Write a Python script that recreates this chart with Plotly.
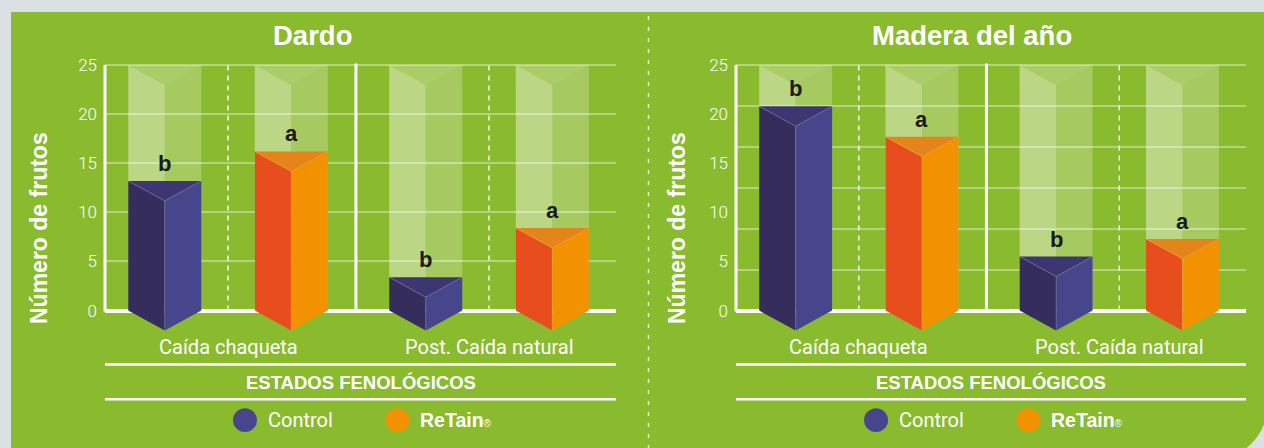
import plotly.graph_objects as go

W, H = 1264, 448

# ---------------- data ----------------
panels = ["Dardo", "Madera del año"]
stages = ["Caída chaqueta", "Post. Caída natural"]
treatments = ["Control", "ReTain"]
dardo_control = [13.2, 3.4]
dardo_retain = [16.2, 8.4]
madera_control = [20.8, 5.5]
madera_retain = [17.7, 7.3]
dardo_control_letters = ["b", "b"]
dardo_retain_letters = ["a", "a"]
madera_control_letters = ["b", "b"]
madera_retain_letters = ["a", "a"]
y_ticks = [0, 5, 10, 15, 20, 25]
y_max = 25
madera_grid_steps = 6
x_axis_title = "ESTADOS FENOLÓGICOS"
y_axis_title = "Número de frutos"

# ---------------- style ----------------
GREEN = "#8aba2e"
GRAY = "#dbe0e4"
CTRL = dict(left="#352d5b", right="#47468c", top="#3c3673", edge="rgba(140,140,190,0.55)")
RET = dict(left="#e84e1d", right="#f29200", top="#e5841a", edge="rgba(235,175,60,0.6)")
GHOST = dict(left="rgba(255,255,255,0.42)", right="rgba(255,255,255,0.24)", top="rgba(255,255,255,0.28)")
GRID = "rgba(255,255,255,0.38)"

group_pos = [1, 3]
bar_off = 0.485
half_w = 0.28
depth = 2.03
x_range = [0.057, 3.973]
y_range = [-3.04, 25.84]


def px(x):
    return x / W


def py(y):
    return 1 - y / H


x_domains = [[105 / W, 616 / W], [736 / W, 1246 / W]]
y_domain = [py(340), py(55)]

fig = go.Figure()


def poly(xs, ys, color, xa, ya):
    fig.add_trace(go.Scatter(x=xs, y=ys, fill="toself", fillcolor=color, mode="lines",
                             line=dict(width=0), hoverinfo="skip", showlegend=False,
                             xaxis=xa, yaxis=ya))


def ghost(xc, xa, ya):
    xl, xr = xc - half_w, xc + half_w
    t = y_max
    poly([xl, xl, xc, xc, xl], [0, t, t - depth, 0, 0], GHOST["left"], xa, ya)
    poly([xc, xc, xr, xr, xc], [0, t - depth, t, 0, 0], GHOST["right"], xa, ya)
    poly([xl, xr, xc, xl], [t, t, t - depth, t], GHOST["top"], xa, ya)


def prism(xc, v, c, xa, ya):
    xl, xr = xc - half_w, xc + half_w
    poly([xl, xl, xc, xc, xl], [0, v, v - depth, -depth, 0], c["left"], xa, ya)
    poly([xc, xc, xr, xr, xc], [-depth, v - depth, v, 0, -depth], c["right"], xa, ya)
    poly([xl, xr, xc, xl], [v, v, v - depth, v], c["top"], xa, ya)
    fig.add_trace(go.Scatter(x=[xl, xc, xr, None, xc, xc], y=[v, v - depth, v, None, v - depth, -depth],
                             mode="lines", line=dict(width=0.8, color=c["edge"]),
                             hoverinfo="skip", showlegend=False, xaxis=xa, yaxis=ya))


panel_data = [
    (dardo_control, dardo_retain, dardo_control_letters, dardo_retain_letters, "x", "y"),
    (madera_control, madera_retain, madera_control_letters, madera_retain_letters, "x2", "y2"),
]

annotations = []


def ann(**kw):
    d = dict(showarrow=False, xanchor="center", yanchor="middle")
    d.update(kw)
    annotations.append(d)


for ctrl, ret, cl, rl, xa, ya in panel_data:
    for i, g in enumerate(group_pos):
        for xc in (g - bar_off, g + bar_off):
            ghost(xc, xa, ya)
    for i, g in enumerate(group_pos):
        prism(g - bar_off, ctrl[i], CTRL, xa, ya)
        prism(g + bar_off, ret[i], RET, xa, ya)
        for xc, v, lab in ((g - bar_off, ctrl[i], cl[i]), (g + bar_off, ret[i], rl[i])):
            ann(x=xc, y=v, xref=xa, yref=ya, text="<b>%s</b>" % lab, yanchor="bottom", yshift=3,
                font=dict(family="Liberation Sans, Arial", size=22, color="#1a1a1a"))

# empty trace to host the Madera grid axis
fig.add_trace(go.Scatter(x=[], y=[], xaxis="x2", yaxis="y3", showlegend=False, hoverinfo="skip"))

tickfont = dict(family="Roboto", size=17, color="white", weight=300)
common_y = dict(range=y_range, domain=y_domain, tickvals=y_ticks, ticks="", showline=False,
                zeroline=True, zerolinecolor="white", zerolinewidth=3.5, tickfont=tickfont,
                ticklabelstandoff=7, fixedrange=True)
fig.update_layout(
    width=W, height=H, margin=dict(l=0, r=0, t=0, b=0),
    paper_bgcolor=GRAY, plot_bgcolor="rgba(0,0,0,0)", showlegend=False,
    xaxis=dict(domain=x_domains[0], range=x_range, visible=False, fixedrange=True),
    xaxis2=dict(domain=x_domains[1], range=x_range, visible=False, fixedrange=True, anchor="y2"),
    yaxis=dict(anchor="x", showgrid=True, gridcolor=GRID, gridwidth=1.6, **common_y),
    yaxis2=dict(anchor="x2", showgrid=False, **common_y),
    yaxis3=dict(anchor="x2", overlaying="y2", range=y_range, domain=y_domain,
                tickvals=[y_max * k / madera_grid_steps for k in range(1, madera_grid_steps + 1)],
                showticklabels=False, ticks="", showgrid=True, gridcolor=GRID, gridwidth=1.6,
                zeroline=False, showline=False, fixedrange=True),
)

shapes = []
# green panel with rounded bottom-right corner
k = 0.5523
r = 58
R, B = 1268, 461
path = ("M {},{} L {},{} L {},{} C {},{} {},{} {},{} L {},{} Z").format(
    px(11), py(10), px(R), py(10), px(R), py(B - r),
    px(R), py(B - r + r * k), px(R - r + r * k), py(B), px(R - r), py(B),
    px(11), py(B))
shapes.append(dict(type="path", path=path, xref="paper", yref="paper", fillcolor=GREEN,
                   line=dict(width=0), layer="below"))
# middle dashed separator between panels
shapes.append(dict(type="line", xref="paper", yref="paper", x0=px(648.5), x1=px(648.5), y0=py(14), y1=py(448),
                   line=dict(color="rgba(255,255,255,0.75)", width=1.5, dash="4px,7px"), layer="below"))

for j, (xa, ya) in enumerate([("x", "y"), ("x2", "y2")]):
    # left axis line
    shapes.append(dict(type="line", xref=xa + " domain", yref=ya, x0=0, x1=0, y0=-0.1, y1=y_max,
                       line=dict(color="white", width=3), layer="below"))
    # group separator
    shapes.append(dict(type="line", xref=xa, yref=ya, x0=2 - 0.02, x1=2 - 0.02, y0=0, y1=y_max + 0.15,
                       line=dict(color="white", width=3), layer="below"))
    # dashed group centre lines
    for g in group_pos:
        shapes.append(dict(type="line", xref=xa, yref=ya, x0=g, x1=g, y0=0, y1=y_max + 0.15,
                           line=dict(color="rgba(255,255,255,0.9)", width=1.5, dash="5px,5px"), layer="below"))
    # horizontal rules around the x-axis title
    for yy in (364, 399):
        shapes.append(dict(type="line", xref=xa + " domain", yref="paper", x0=0, x1=1, y0=py(yy), y1=py(yy),
                           line=dict(color="white", width=2.5), layer="below"))
    # legend circles
    off = 631 * j
    for cx, col in ((245 + off, CTRL["right"]), (397.5 + off, RET["right"])):
        shapes.append(dict(type="circle", xref="paper", yref="paper", x0=px(cx - 12), x1=px(cx + 12),
                           y0=py(432), y1=py(408), fillcolor=col, line=dict(width=0)))

    # category labels
    for g, s in zip(group_pos, stages):
        ann(x=g, xref=xa, y=py(347), yref="paper", text=s,
            font=dict(family="Roboto", size=20, color="white"))
    # x-axis title
    ann(x=0.5, xref=xa + " domain", y=py(382), yref="paper", text="<b>%s</b>" % x_axis_title,
        font=dict(family="Liberation Sans, Arial", size=18.5, color="white"))
    # legend labels
    ann(x=px(266 + off), xref="paper", y=py(420), yref="paper", xanchor="left",
        text=treatments[0], font=dict(family="Roboto", size=20, color="white"))
    ann(x=px(418 + off), xref="paper", y=py(420), yref="paper", xanchor="left",
        text="<b>%s</b><span style='font-size:10px'>®</span>" % treatments[1],
        font=dict(family="Liberation Sans, Arial", size=19.5, color="white"))

# titles
for tx, t in zip((312, 971.5), panels):
    ann(x=px(tx), xref="paper", y=py(34), yref="paper", text="<b>%s</b>" % t,
        font=dict(family="Liberation Sans, Arial", size=27.5, color="white"))
# y-axis titles
for tx in (39, 677):
    ann(x=px(tx), xref="paper", y=py(227), yref="paper", text="<b>%s</b>" % y_axis_title,
        textangle=-90, font=dict(family="Liberation Sans, Arial", size=23, color="white"))

fig.update_layout(shapes=shapes, annotations=annotations)

fig.write_html("out.html", config={"displayModeBar": False},
               post_script="document.body.style.margin='0';")
